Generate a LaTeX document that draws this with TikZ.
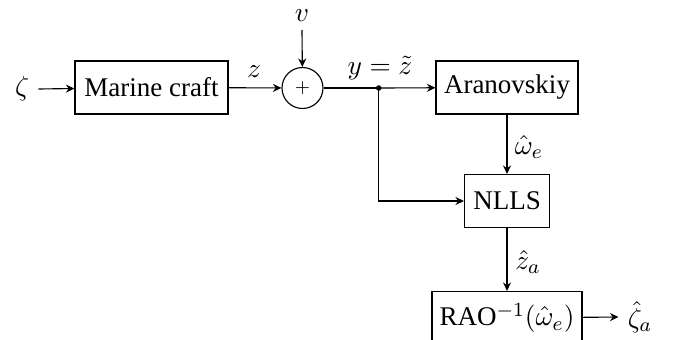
\documentclass[tikz,border=0pt]{standalone}
\usepackage{fontspec}
\setmainfont{Liberation Serif}
\usetikzlibrary{arrows.meta}
\begin{document}
\begin{tikzpicture}[x=0.4pt,y=-0.4pt,font=\fontsize{10.8}{13}\selectfont,
  blk/.style={draw,line width=0.45pt,minimum height=21.2pt,inner sep=2pt},
  sig/.style={draw,line width=0.45pt,-{Stealth[length=3.4pt,width=3.2pt]}},
  lbl/.style={inner sep=0pt}]
\useasboundingbox (0,0) rectangle (677,339);
\node[lbl] (zeta) at (22,89) {$\zeta$};
\node[blk,minimum width=61.2pt] (mc) at (151.5,87.5) {Marine craft};
\node[draw,circle,line width=0.45pt,minimum size=16.4pt,inner sep=0pt] (sum) at (302.5,88) {\scriptsize$+$};
\node[lbl] (v) at (302,16) {$v$};
\coordinate (vs) at (302,30);
\node[lbl] (zl) at (254,72) {$z$};
\coordinate (j) at (378.7,88);
\node[lbl] (yl) at (380,68) {$y=\tilde z$};
\node[blk,minimum width=56.8pt] (ar) at (507,87.5) {Aranovskiy};
\node[blk,minimum width=34pt] (nl) at (507,201) {NLLS};
\node[lbl] (wl) at (529,147) {$\hat\omega_e$};
\node[lbl] (zal) at (528,262) {$\hat z_a$};
\node[blk,minimum width=60pt] (rao) at (507,318) {RAO$^{-1}(\hat\omega_e)$};
\node[lbl] (zh) at (640,317) {$\hat\zeta_a$};
\draw[sig] ([xshift=3.6pt]zeta.east) -- (mc);
\draw[sig] (mc) -- (sum);
\draw[sig] (vs) -- (sum);
\draw[line width=0.45pt] (sum) -- (j);
\draw[sig] (j) -- (ar);
\fill (j) circle (1.1pt);
\draw[sig] (j) |- (nl);
\draw[sig] (ar) -- (nl);
\draw[sig] (nl) -- (rao);
\draw[sig] (rao) -- ([xshift=-3.5pt]zh.west);
\end{tikzpicture}
\end{document}
